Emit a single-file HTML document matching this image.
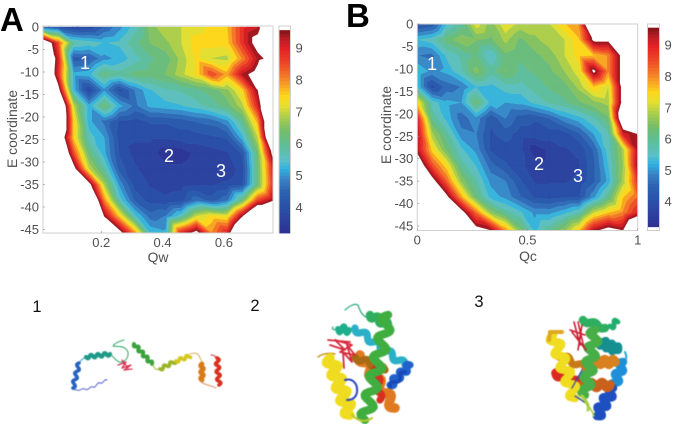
<!DOCTYPE html>
<html lang="en">
<head>
<meta charset="utf-8">
<title>Free energy landscapes and protein structures</title>
<style>
html,body{margin:0;padding:0;background:#fff;width:675px;height:424px;overflow:hidden}
svg{display:block;position:absolute;left:0;top:0;filter:blur(.35px)}
text{font-family:"Liberation Sans",sans-serif}
.tick{font-size:13px;fill:#505050}
.axis{font-size:13.9px;fill:#505050}
.state{font-size:18px;fill:#fff}
.num{font-size:16.5px;fill:#111}
.panel{font-size:33px;font-weight:bold;fill:#000}
.protein{filter:blur(.6px)}
</style>
</head>
<body>
<svg id="figure" xmlns="http://www.w3.org/2000/svg" width="675" height="424" viewBox="0 0 675 424">
  <g id="chart-a"></g>
  <g id="chart-b"></g>

  <text class="panel" x="0" y="31">A</text>
  <text class="panel" x="346" y="27">B</text>

  <text class="axis" x="158" y="262" text-anchor="middle">Qw</text>
  <text class="axis" x="528" y="261" text-anchor="middle">Qc</text>
  <text class="axis" transform="translate(17,129) rotate(-90)" text-anchor="middle">E coordinate</text>
  <text class="axis" transform="translate(391,125) rotate(-90)" text-anchor="middle">E coordinate</text>

  <text class="state" x="85" y="69" text-anchor="middle">1</text>
  <text class="state" x="169" y="162" text-anchor="middle">2</text>
  <text class="state" x="221" y="177" text-anchor="middle">3</text>
  <text class="state" x="432" y="70" text-anchor="middle">1</text>
  <text class="state" x="539" y="170" text-anchor="middle">2</text>
  <text class="state" x="578" y="182" text-anchor="middle">3</text>

  <text class="num" x="37" y="312" text-anchor="middle">1</text>
  <text class="num" x="255" y="311" text-anchor="middle">2</text>
  <text class="num" x="479" y="307" text-anchor="middle">3</text>

  <g id="structure-1" class="protein"></g>
  <g id="structure-2" class="protein"></g>
  <g id="structure-3" class="protein"></g>
</svg>

<script>
/* ---------- chart data ---------- */
const energyRows = [0,-3.5,-7,-10.5,-14,-17.5,-21,-24.5,-28,-31.5,-35,-38.5,-42,-46];
const qwColumns = [0.01,0.06,0.11,0.16,0.21,0.26,0.31,0.36,0.41,0.46,0.51,0.56,0.61,0.66,0.71,0.76];
const qcColumns = [0,0.0667,0.1333,0.2,0.2667,0.3333,0.4,0.4667,0.5333,0.6,0.6667,0.7333,0.8,0.8667,0.9333,1];

const freeEnergyA = [
 [4.6,4.2,3.8,3.9,4.5,5,5.6,6.5,7,7,7.2,7.4,7.6,8.8,9.2,12],
 [11,8.5,5.8,5.6,5.4,5.5,6,6.4,6.6,7,7.5,7.5,7.5,8.8,10,12],
 [12,9,4.3,4.4,5,5.2,5.6,6,6.2,6.8,7.4,7,6.9,8,9.3,10],
 [12,8.8,5.2,5.3,6.2,5.9,6.2,6.2,6.4,6.9,7.4,8.6,7.8,9.3,10,12],
 [12,10,5.3,3.8,5,4,4.8,5.4,5.7,5.8,6,6.2,6.6,7.5,9.6,12],
 [12,12,7,5.2,6.3,5.2,4.7,5.2,5.3,5.4,5.6,5.9,6.2,6.9,9,12],
 [12,12,7.5,5.2,4.7,4.1,4,4.2,4.2,4.3,4.5,4.6,5,6,7.8,12],
 [12,11,7.5,5.6,5.1,4,3.9,3.9,3.9,4,4,4.1,4.2,5.3,7,12],
 [12,12,8.5,6.2,5.2,4.1,3.7,3.7,3.3,3.3,3.6,3.7,3.8,4.2,6.3,10],
 [12,12,10,7,5.8,4.3,3.9,3.6,3.6,3.6,3.8,3.6,3.6,4,6.2,9],
 [12,12,12,10,6.8,5,4,3.8,3.7,3.7,3.8,3.8,3.9,4.1,6.2,8.8],
 [12,12,12,12,8,5.6,4.4,4,3.9,4,4.7,4.3,4.7,6.2,8.6,9.5],
 [12,12,12,12,9.5,7.5,5.5,4.6,4.8,5.6,7,7.4,7.2,9.5,12,12],
 [12,12,12,12,12,10,8,5.4,5.2,9,10,8,9,12,12,12]
];

const freeEnergyB = [
 [4,4.2,5.4,5.9,7.2,6.5,7.3,6.9,6.9,7,7.6,8,12,12,12,12],
 [5.4,5.6,6.2,6.6,6.4,6.3,6.8,6.3,6.6,6.9,7,7.6,9.8,9.8,12,12],
 [4.8,4.7,5.5,5.8,6.1,5.4,6.3,6.1,6.3,6.5,7,7.5,7.6,8,10,12],
 [5.4,5,5.2,5.7,6.5,5.9,6.4,6,6.1,6.3,6.7,7.2,9.8,8,10,12],
 [5.4,4,4.6,4.8,5.4,5.3,5.6,5.6,5.9,6.1,6.2,6.8,7.6,7,10,12],
 [7.5,5.6,5.2,5.1,6.3,5.3,5.1,5.2,5.5,5.8,6,6.3,6.6,6.8,10,12],
 [9,6,5.3,4.6,5,4.2,4.8,4.3,4.2,4.5,5,5.3,5.7,6.3,11,12],
 [9.3,6.8,5.9,4.9,4.8,4.1,4.3,4,4,4,4,4.4,5.1,5.7,9,9.6],
 [9.3,7.5,6.3,5.5,5,4.1,4,3.9,3.3,3.6,3.8,3.9,4.5,5.6,6.8,9.4],
 [10.5,8.5,7.4,5.9,5.4,4.6,4.2,3.9,3.7,3.6,3.7,3.8,4.4,5.4,6.7,9.5],
 [12,10,8.3,6.6,5.8,5,4.8,4.2,3.8,3.8,3.8,3.9,4.4,5.2,6.8,8.8],
 [12,12,9.8,7.8,6.2,5.3,5,4.5,4.1,4,4.1,4.1,5,6,7.6,8.3],
 [12,12,12,10,8.2,6.6,5.9,5.5,5,5,5.3,5.7,7,7.6,8,9],
 [12,12,12,12,10,9.6,8,6.5,5.3,6,6.6,7.6,9.4,10,9.6,12]
];

const energyTicks = [0,-5,-10,-15,-20,-25,-30,-35,-40,-45];
const qwTicks = [0.2,0.4,0.6];
const qcTicks = [0,0.5,1];
const qcTickLabels = ["0","0.5","1"];
const colorbarTicks = [4,5,6,7,8,9];

/* ---------- colour scale ---------- */
const colorDomain = [3.2,4,4.5,4.9,5.2,5.5,6,6.4,6.8,7.2,7.5,8,8.5,9,9.3,9.56];
const colorRange = ["#2e3192","#2a4fa8","#2b62b0","#3a82c4","#2fb0e0","#5cc0c8","#5fbe94","#74bd6a","#a5cc50","#e6e030","#fdd71c","#f58a28","#ee4a28","#e21f26","#b81d24","#7f1418"];
const bandCount = 20;
const bandMin = 3.2;
const bandMax = 9.56;

function hexToRgb(h){return [1,3,5].map(i=>parseInt(h.substr(i,2),16));}
function colorOf(v){
  if(v<=colorDomain[0])return colorRange[0];
  for(let i=1;i<colorDomain.length;i++){
    if(v<=colorDomain[i]){
      const t=(v-colorDomain[i-1])/(colorDomain[i]-colorDomain[i-1]);
      const a=hexToRgb(colorRange[i-1]),b=hexToRgb(colorRange[i]);
      return "rgb("+a.map((c,k)=>Math.round(c+(b[k]-c)*t)).join(",")+")";
    }
  }
  return colorRange[colorRange.length-1];
}

const NS="http://www.w3.org/2000/svg";
function mk(parent,tag,attrs,txt){
  const el=document.createElementNS(NS,tag);
  for(const k in attrs)el.setAttribute(k,attrs[k]);
  if(txt!==undefined)el.textContent=txt;
  parent.appendChild(el);
  return el;
}

/* clip polygon of [x,y,v] points to v>=t (sign=1) or v<=t (sign=-1) */
function clip(poly,t,sign){
  const out=[];
  for(let i=0;i<poly.length;i++){
    const a=poly[i],b=poly[(i+1)%poly.length];
    const ia=(a[2]-t)*sign>=0,ib=(b[2]-t)*sign>=0;
    if(ia)out.push(a);
    if(ia!==ib){
      const u=(t-a[2])/(b[2]-a[2]);
      out.push([a[0]+(b[0]-a[0])*u,a[1]+(b[1]-a[1])*u,t]);
    }
  }
  return out;
}

function drawPanel(root,cfg){
  const sx=cfg.xScale,sy=cfg.yScale,vals=cfg.values,cols=cfg.columns;
  const step=(bandMax-bandMin)/bandCount;
  for(let b=0;b<bandCount;b++){
    const lo=bandMin+b*step,hi=lo+step;
    let d="";
    for(let r=0;r<energyRows.length-1;r++){
      for(let c=0;c<cols.length-1;c++){
        const p=(rr,cc)=>[sx(cols[cc]),sy(energyRows[rr]),vals[rr][cc]];
        const a=p(r,c),e=p(r,c+1),f=p(r+1,c+1),g=p(r+1,c);
        [[a,e,f],[a,f,g]].forEach(tri=>{
          let poly=clip(tri,lo,1);
          if(poly.length)poly=clip(poly,hi,-1);
          if(poly.length>2){
            d+="M"+poly.map(q=>q[0].toFixed(1)+" "+q[1].toFixed(1)).join("L")+"Z";
          }
        });
      }
    }
    if(d){
      const col=colorOf(lo+step/2);
      const band=mk(root,"path",{d:d,fill:col,stroke:col,"stroke-width":"0.35"});
      
      
    }
  }

  /* frame */
  const box=cfg.box;
  const frame=mk(root,"rect",{x:box.x0,y:box.y0,width:box.x1-box.x0,height:box.y1-box.y0,fill:"none",stroke:"#cfcfcf","stroke-width":"1"});
  
  

  /* y ticks */
  energyTicks.forEach(t=>{
    const y=sy(t);
    const mark=mk(root,"line",{x1:box.x0,x2:box.x0+2,y1:y,y2:y,stroke:"#999","stroke-width":"0.7"});
    
    
    const lab=mk(root,"text",{x:box.x0-4,y:y+4.5,"text-anchor":"end","class":"tick"},String(t));
    
    
  });

  /* x ticks */
  cfg.xTicks.forEach((t,i)=>{
    const x=sx(t);
    const mark=mk(root,"line",{x1:x,x2:x,y1:box.y1,y2:box.y1-2,stroke:"#999","stroke-width":"0.7"});
    
    
    const lab=mk(root,"text",{x:x,y:box.y1+cfg.xLabelGap,"text-anchor":"middle","class":"tick"},cfg.xLabels[i]);
    
    
  });

  /* colour bar */
  const cb=cfg.bar;
  const by=cb.scale;
  const barBg=mk(root,"rect",{x:cb.x,y:box.y0,width:cb.w,height:box.y1-box.y0,fill:"#fff",stroke:"#cfcfcf","stroke-width":"1"});
  
  
  const barStep=(bandMax-bandMin)/60;
  for(let i=0;i<60;i++){
    const lo=bandMin+i*barStep;
    const seg=mk(root,"rect",{x:cb.x+.5,y:by(lo+barStep),width:cb.w-1,height:by(lo)-by(lo+barStep)+.4,fill:colorOf(lo+barStep/2)});
    
    
  }
  colorbarTicks.forEach(t=>{
    const lab=mk(root,"text",{x:cb.x+cb.w+5,y:by(t)+4.5,"class":"tick"},String(t));
    
    
  });
}

/* axis functions */
function xA(q){return 43+(q-0.01)/0.75*230;}
function yA(e){return Math.min(233,27-e*4.5);}
function barA(v){return 207.5-(v-4)*31.9;}
function xB(q){return 417.3+q*220.4;}
function yB(e){return Math.min(230.5,24-e*4.49);}
function barB(v){return 201.7-(v-4)*31.3;}

drawPanel(document.getElementById("chart-a"),{
  xScale:xA,yScale:yA,values:freeEnergyA,columns:qwColumns,
  box:{x0:43,x1:273,y0:26,y1:233},
  xTicks:qwTicks,xLabels:qwTicks.map(String),xLabelGap:14,
  bar:{x:279,w:11.5,scale:barA}
});
drawPanel(document.getElementById("chart-b"),{
  xScale:xB,yScale:yB,values:freeEnergyB,columns:qcColumns,
  box:{x0:417.3,x1:637.7,y0:24,y1:230.5},
  xTicks:qcTicks,xLabels:qcTickLabels,xLabelGap:14,
  bar:{x:647.5,w:12,scale:barB}
});

/* ---------- protein cartoons ---------- */
function helix(root,x1,y1,x2,y2,color,width,amp,turns){
  const dx=x2-x1,dy=y2-y1,len=Math.hypot(dx,dy)||1,nx=-dy/len,ny=dx/len;
  const n=Math.max(8,Math.round(turns*12));
  let d="";
  for(let i=0;i<=n;i++){
    const t=i/n,s=Math.sin(t*turns*2*Math.PI)*amp*0.8;
    d+=(i?"L":"M")+(x1+dx*t+nx*s).toFixed(1)+" "+(y1+dy*t+ny*s).toFixed(1);
  }
  const el=mk(root,"path",{d:d,fill:"none",stroke:color,"stroke-width":width*1.2,"stroke-linejoin":"round","stroke-linecap":"round"});
  
  
}
function coil(root,d,color,width){
  const el=mk(root,"path",{d:d,fill:"none",stroke:color,"stroke-width":width||1,"stroke-linecap":"round","stroke-linejoin":"round"});
  
  
}

const s1=document.getElementById("structure-1");
coil(s1,"M107 380 C104 378 103 385 100 383 C97 381 96 389 93 387 C90 385 88 392 85 389 C82 387 80 392 77 390 L72 389","#5560cc",1);
helix(s1,73,388,79,363,"#2463c0",3,2.2,3);
coil(s1,"M80 362 Q82 358 86 358","#3a9cc0",1);
helix(s1,86,357,110,354,"#1f9a88",3.4,2,3.5);
coil(s1,"M111 355 C115 358 117 363 122 362 C128 360 130 353 126 349 C122 345 115 347 113 346 C115 343 120 341 124 340","#2ea868",1);
helix(s1,134,344,152,364,"#3ba33c",3.2,2,4);
coil(s1,"M153 365 Q156 372 159 368","#a0c040",1);
helix(s1,160,369,176,361,"#9ab52a",3,2,2.5);
helix(s1,176,361,190,356,"#d4c820",3,2,2.2);
coil(s1,"M190 354 Q198 351 200 358 L202 362","#d8b060",1);
helix(s1,202,364,202,380,"#d97a1a",4,1.8,2.5);
coil(s1,"M200 381 C205 386 212 385 216 388","#d89060",1);
helix(s1,219,385,217,358,"#d8301f",3,2.4,3.5);
coil(s1,"M211 355 Q215 355 216 358","#c8282a",1);
coil(s1,"M118 365 L126 362 L122 368 L131 365 L124 370 L132 369 M122 360 L128 368","#d83050",1.3);

const s2=document.getElementById("structure-2");
coil(s2,"M342 330 C335 329 331 331 333 327 M345 310 C350 306 354 303 358 305 C360 311 362 316 368 318","#2aa878",1.2);
helix(s2,338,329,349,330,"#1fae8c",5,4,1.5);
helix(s2,370,315,388,325,"#2fae5f",7,3,2);
helix(s2,355,328,405,365,"#2bb0c8",6,3.5,4);
helix(s2,410,365,390,385,"#1f62cc",6,3.5,3);
helix(s2,405,372,385,392,"#1a48b8",3,3,2);
coil(s2,"M318 357 Q325 352 335 354","#c8961c",1.5);
helix(s2,360,355,395,408,"#e07a20",8,5,3.5);
helix(s2,355,357,385,370,"#a86a12",6,3,2);
helix(s2,376,368,380,400,"#d83020",6,3,2);
helix(s2,388,315,365,420,"#3fae3f",7,7,5.5);
helix(s2,330,358,350,415,"#efdc20",8,6,4.5);
coil(s2,"M345 380 C352 378 358 383 357 392 C356 398 352 400 347 400","#2a45c0",2);
coil(s2,"M352 415 Q362 425 372 418","#b8c830",2);
coil(s2,"M330 345 L345 350 L335 340 L352 345 L340 352 L355 355 L347 345 L352 362 L343 352 L344 368 M328 340 L350 342","#d8283c",1.8);

const s3=document.getElementById("structure-3");
helix(s3,583,320,605,328,"#2fae5f",7,2,1.5);
helix(s3,610,326,618,322,"#1fae6c",4,4,1);
helix(s3,600,342,618,350,"#158f90",7,4,3);
coil(s3,"M625 352 Q628 358 624 362","#24a8d0",2);
helix(s3,623,362,613,388,"#1f90d8",7,4,2.5);
helix(s3,613,388,597,416,"#1d4fc0",7,5,3);
helix(s3,556,353,585,368,"#c87a18",6,3,2);
helix(s3,590,362,615,362,"#d9801f",8,3,3);
helix(s3,556,373,578,384,"#d92a20",8,3,2);
helix(s3,583,385,610,385,"#c9601c",8,3,2.5);
helix(s3,595,330,585,395,"#48ae48",7,6,4.5);
coil(s3,"M582 396 Q590 405 588 410","#a8d040",3);
helix(s3,553,335,575,398,"#f0dc20",7,6,4.5);
coil(s3,"M549 340 L550 332 L562 332","#e0a820",4);
coil(s3,"M578 397 C584 402 590 405 594 416","#9fc838",1.5);
coil(s3,"M572 388 L582 370 M575 396 L584 402","#2a45c0",1.2);
coil(s3,"M574 322 L580 345 M578 322 L584 348 M572 332 L586 350 M582 325 L578 350 M570 330 L585 335","#c81e2e",1.6);
</script>
</body>
</html>
